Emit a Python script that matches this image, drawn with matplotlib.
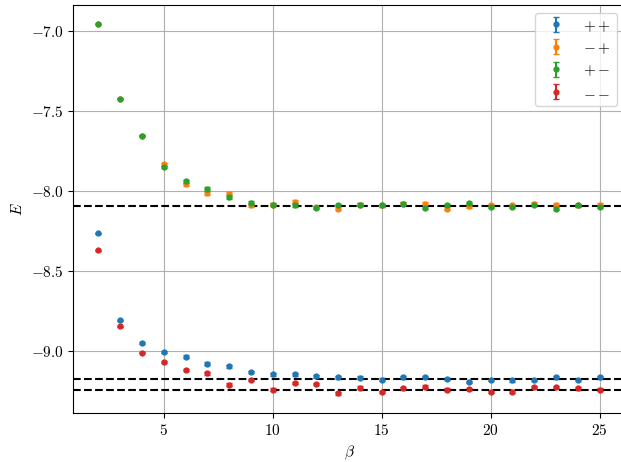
import matplotlib
matplotlib.use("Agg")
import matplotlib.pyplot as plt
from matplotlib.ticker import FuncFormatter, MultipleLocator
import numpy as np

plt.rcParams['mathtext.fontset'] = 'cm'
plt.rcParams['font.family'] = 'serif'
plt.rcParams['font.serif'] = ['DejaVu Serif']

beta = list(range(2, 26))

E_pp = [-8.264, -8.808, -8.95, -9.004, -9.035, -9.079, -9.094, -9.129, -9.144, -9.144,
        -9.158, -9.163, -9.165, -9.177, -9.163, -9.160, -9.173, -9.192, -9.179, -9.183,
        -9.179, -9.163, -9.179, -9.163]
E_mp = [-6.958, -7.425, -7.656, -7.834, -7.960, -8.013, -8.017, -8.090, -8.086, -8.067,
        -8.100, -8.110, -8.086, -8.090, -8.080, -8.080, -8.110, -8.096, -8.088, -8.088,
        -8.079, -8.086, -8.090, -8.086]
E_pm = [-6.958, -7.425, -7.656, -7.852, -7.940, -7.988, -8.040, -8.073, -8.086, -8.090,
        -8.104, -8.088, -8.086, -8.090, -8.080, -8.104, -8.088, -8.077, -8.100, -8.100,
        -8.088, -8.110, -8.090, -8.100]
E_mm = [-8.371, -8.846, -9.010, -9.069, -9.117, -9.138, -9.210, -9.180, -9.240, -9.200,
        -9.204, -9.264, -9.227, -9.256, -9.233, -9.221, -9.240, -9.235, -9.256, -9.252,
        -9.225, -9.225, -9.233, -9.240]
err = [0.002, 0.003, 0.004, 0.008, 0.008, 0.01, 0.01, 0.008, 0.008, 0.008, 0.008, 0.008,
       0.008, 0.008, 0.008, 0.008, 0.008, 0.008, 0.008, 0.008, 0.008, 0.008, 0.008, 0.008]

ref_lines = [-8.096, -9.173, -9.244]

labels = ['$++$', '$-+$', '$+-$', '$--$']
colors = ['#1f77b4', '#ff7f0e', '#2ca02c', '#d62728']

fig = plt.figure(figsize=(6.21, 4.62), dpi=100)
ax = fig.add_axes([0.118, 0.1054, 0.888, 0.8838])

for E, lab, c in zip([E_pp, E_mp, E_pm, E_mm], labels, colors):
    ax.errorbar(beta, E, yerr=err, fmt='o', color=c, markersize=3.5, capsize=2,
                label=lab)

for y in ref_lines:
    ax.axhline(y, color='black', linestyle='--', linewidth=1.5)

ax.spines['right'].set_visible(False)
ax.grid(True)
ax.xaxis.set_major_locator(MultipleLocator(5))
ax.yaxis.set_major_locator(MultipleLocator(0.5))
ax.xaxis.set_major_formatter(FuncFormatter(lambda v, p: f'${v:.0f}$'))
ax.yaxis.set_major_formatter(FuncFormatter(lambda v, p: f'${v:.1f}$'))
ax.tick_params(labelsize=11)
ax.set_xlabel(r'$\beta$', fontsize=11)
ax.set_ylabel(r'$E$', fontsize=11)
ax.legend(loc='upper right', fontsize=11)

fig.savefig('out.png', dpi=100)
